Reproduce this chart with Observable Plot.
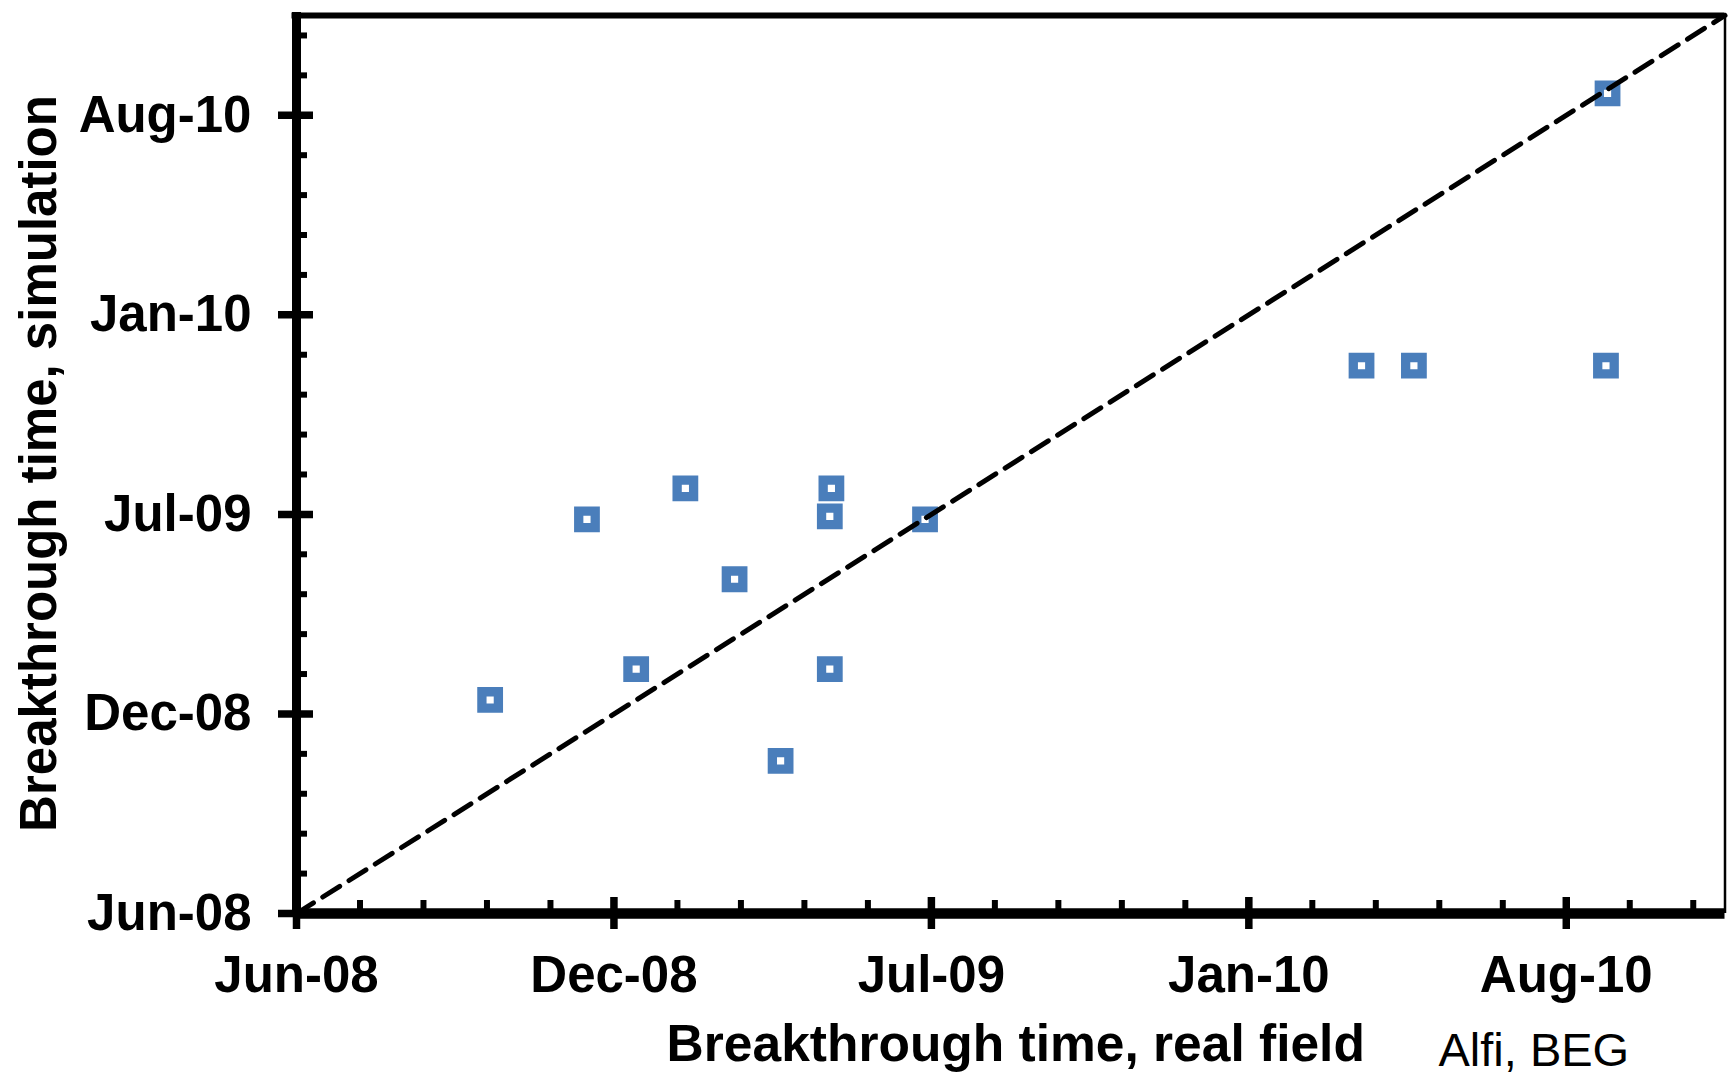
<!DOCTYPE html>
<html>
<head>
<meta charset="utf-8">
<script src="https://cdn.jsdelivr.net/npm/d3@7"></script>
<script src="https://cdn.jsdelivr.net/npm/@observablehq/plot@0.6"></script>
<style>
  html, body { margin: 0; padding: 0; background: #fff; overflow: hidden; }
  #chart svg { display: block; }
</style>
</head>
<body>
<div id="chart"></div>
<script>
// Breakthrough dates per well: observed in the field vs. predicted by the simulation
const realField = [
  "2008-10-01", "2008-12-01", "2009-01-01", "2009-02-01", "2009-03-04",
  "2009-04-02", "2009-05-04", "2009-05-03", "2009-05-03", "2009-07-02",
  "2010-04-03", "2010-05-06", "2010-09-04", "2010-09-05"
];
const simulation = [
  "2009-01-01", "2009-07-01", "2009-02-01", "2009-08-01", "2009-05-02",
  "2008-11-01", "2009-08-01", "2009-07-04", "2009-02-01", "2009-07-01",
  "2009-12-02", "2009-12-02", "2009-12-02", "2010-09-01"
];

// Axis range and ticks (major every 200 days, minor every 40 days)
const axisRange = ["2008-06-01", "2010-11-18"];
const majorTicks = ["2008-06-01", "2008-12-18", "2009-07-06", "2010-01-22", "2010-08-10"];
const majorTickLabels = ["Jun-08", "Dec-08", "Jul-09", "Jan-10", "Aug-10"];
const minorStepDays = 40;

const xTitle = "Breakthrough time, real field";
const yTitle = "Breakthrough time, simulation";
const credit = "Alfi, BEG";

const blue = "#4a7ebb";
const font = "'Liberation Sans', Arial, Helvetica, sans-serif";

const [t0, t1] = axisRange.map(d => new Date(d));
const points = realField.map((r, i) => ({real: new Date(r), sim: new Date(simulation[i])}));
const majors = majorTicks.map((d, i) => ({date: new Date(d), label: majorTickLabels[i]}));
const minors = d3.utcDay.range(t0, t1, minorStepDays);
const diagonal = [t0, t1];
const atStart = () => t0;

const chart = Plot.plot({
  width: 1728,
  height: 1074,
  marginLeft: 296,
  marginRight: 3.5,
  marginTop: 15,
  marginBottom: 161,
  style: {background: "#fff", fontFamily: font},
  x: {type: "utc", domain: [t0, t1], axis: null},
  y: {type: "utc", domain: [t0, t1], axis: null},
  marks: [
    // field vs. simulation points
    Plot.dot(points, {
      x: "real", y: "sim", symbol: "square", r: 9.3,
      fill: "none", stroke: blue, strokeWidth: 9.3
    }),
    // 1:1 reference line
    Plot.line(diagonal, {
      x: d => d, y: d => d, stroke: "#000", strokeWidth: 5,
      strokeDasharray: "20,11"
    }),
    // frame: heavy left/bottom axes, top edge, thin right edge
    Plot.ruleY([t1], {stroke: "#000", strokeWidth: 6, insetLeft: -4.5}),
    Plot.ruleX([t1], {stroke: "#000", strokeWidth: 2.5}),
    Plot.ruleX([t0], {stroke: "#000", strokeWidth: 9, insetTop: -3}),
    Plot.ruleY([t0], {stroke: "#000", strokeWidth: 10.5}),
    // minor ticks (inside only)
    Plot.ruleX(minors, {x: d => d, y1: atStart, y2: atStart, insetTop: 0, insetBottom: 13, stroke: "#000", strokeWidth: 6}),
    Plot.ruleY(minors, {y: d => d, x1: atStart, x2: atStart, insetLeft: 0, insetRight: -11, stroke: "#000", strokeWidth: 6}),
    // major ticks crossing the axes
    Plot.ruleX(majors, {x: "date", y1: atStart, y2: atStart, insetTop: 16, insetBottom: 16, stroke: "#000", strokeWidth: 7.5}),
    Plot.ruleY(majors, {y: "date", x1: atStart, x2: atStart, insetLeft: -18, insetRight: -17, stroke: "#000", strokeWidth: 7.5}),
    // tick labels
    Plot.text(majors, {
      x: "date", text: "label", frameAnchor: "bottom", lineAnchor: "middle", dy: 62,
      fontSize: 51, fontWeight: "bold", fill: "#000"
    }),
    Plot.text(majors, {
      y: "date", text: "label", frameAnchor: "left", lineAnchor: "middle", dx: -45, textAnchor: "end",
      fontSize: 51, fontWeight: "bold", fill: "#000"
    }),
    // axis titles
    Plot.text([xTitle], {
      frameAnchor: "bottom", lineAnchor: "middle", textAnchor: "middle", dx: 5, dy: 131,
      fontSize: 51.5, fontWeight: "bold", fill: "#000"
    }),
    Plot.text([yTitle], {
      frameAnchor: "left", lineAnchor: "middle", textAnchor: "middle", dx: -257, dy: -1, rotate: -90,
      fontSize: 51, fontWeight: "bold", fill: "#000"
    }),
    // source credit
    Plot.text([credit], {
      frameAnchor: "bottom-left", lineAnchor: "middle", textAnchor: "start", dx: 1142, dy: 137,
      fontSize: 47, fontWeight: "normal", fill: "#000"
    })
  ]
});

document.getElementById("chart").appendChild(chart);
</script>
</body>
</html>
